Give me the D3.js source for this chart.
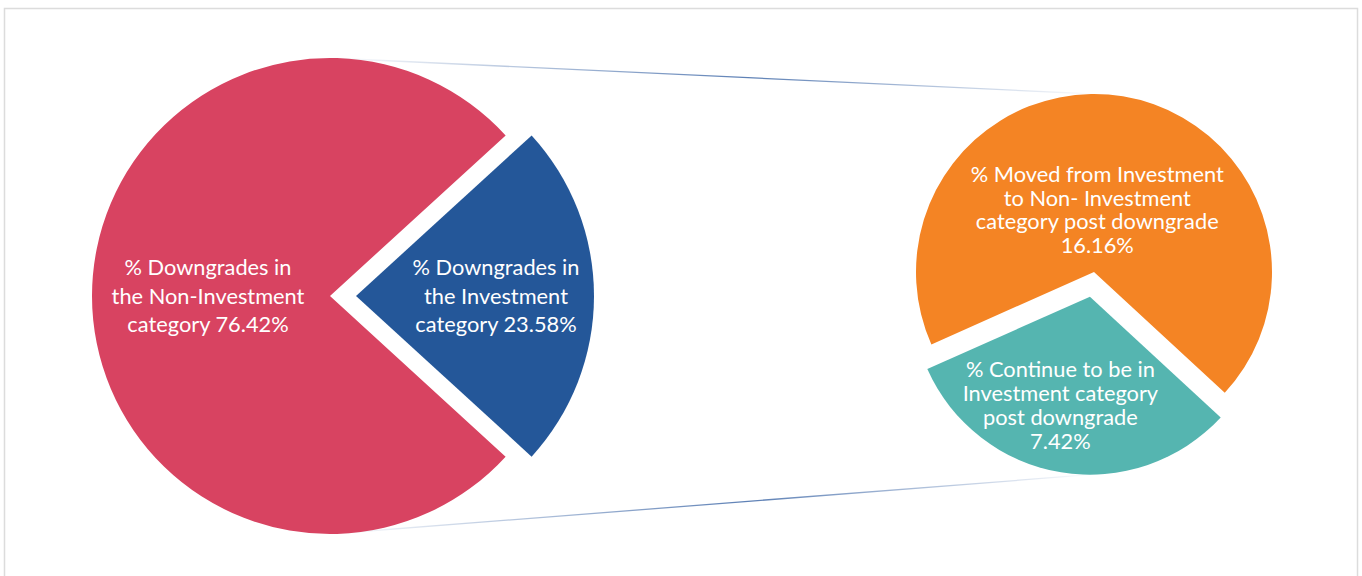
<!DOCTYPE html>
<html>
<head>
<meta charset="utf-8">
<script src="https://cdn.jsdelivr.net/npm/d3@7"></script>
<style>
  body { margin: 0; background: #fff; }
  svg { display: block; font-family: Lato, "Noto Sans", sans-serif; }
</style>
</head>
<body>
<div id="chart"></div>
<script>
// main pie
var mainLabels = [
  ['% Downgrades in', 'the Non-Investment', 'category 76.42%'],
  ['% Downgrades in', 'the Investment', 'category 23.58%']
];
var mainValues = [76.42, 23.58];
var mainColors = ['#D84361', '#245799'];

// breakdown of the investment slice
var subLabels = [
  ['% Moved from Investment', 'to Non- Investment', 'category post downgrade', '16.16%'],
  ['% Continue to be in', 'Investment category', 'post downgrade', '7.42%']
];
var subValues = [16.16, 7.42];
var subColors = ['#F48424', '#55B5B0'];

var width = 1362, height = 576;
var deg = Math.PI / 180;

var svg = d3.select('#chart').append('svg')
  .attr('width', width)
  .attr('height', height);

svg.append('rect')
  .attr('x', 4.5).attr('y', 8.5)
  .attr('width', 1353).attr('height', 600)
  .attr('fill', 'none')
  .attr('stroke', '#dcdcdc')
  .attr('stroke-width', 1.5);

var left = { cx: 330, cy: 296, r: 238, explode: 26 };
var right = { cx: 1094, cy: 272, r: 178, explode: 25 };

// connector lines
var grad = svg.append('defs').append('linearGradient')
  .attr('id', 'conn')
  .attr('gradientUnits', 'userSpaceOnUse')
  .attr('x1', left.cx).attr('x2', right.cx)
  .attr('y1', 0).attr('y2', 0);
grad.append('stop').attr('offset', '0%').attr('stop-color', '#ffffff');
grad.append('stop').attr('offset', '55%').attr('stop-color', '#5d80b5');
grad.append('stop').attr('offset', '100%').attr('stop-color', '#ffffff');

// pies
var mainPie = d3.pie().sort(null).startAngle(132.45 * deg).endAngle(492.45 * deg)(mainValues);
var subPie = d3.pie().sort(null).startAngle(246 * deg).endAngle(606 * deg)(subValues);

var subTealMid = (subPie[1].startAngle + subPie[1].endAngle) / 2;
var tealShift = [Math.sin(subTealMid) * right.explode, -Math.cos(subTealMid) * right.explode];

var connectors = [
  [[left.cx, left.cy - left.r], [right.cx, right.cy - right.r]],
  [[left.cx, left.cy + left.r], [right.cx + tealShift[0], right.cy + tealShift[1] + right.r]]
];

svg.selectAll('.conn')
  .data(connectors)
  .enter().append('path')
  .attr('class', 'conn')
  .attr('d', d3.line())
  .attr('fill', 'none')
  .attr('stroke', 'url(#conn)')
  .attr('stroke-width', 1.3);

function drawPie(slices, cfg, colors, labels, explodeIndex, labelRadii, nudges, fontSize, lineH) {
  var arc = d3.arc().innerRadius(0).outerRadius(cfg.r);
  var g = svg.append('g').attr('transform', 'translate(' + cfg.cx + ',' + cfg.cy + ')');

  var sg = g.selectAll('g.slice')
    .data(slices)
    .enter().append('g')
    .attr('class', 'slice')
    .attr('transform', function(d, i) {
      if (i !== explodeIndex) return null;
      var mid = (d.startAngle + d.endAngle) / 2;
      return 'translate(' + (Math.sin(mid) * cfg.explode) + ',' + (-Math.cos(mid) * cfg.explode) + ')';
    });

  sg.append('path')
    .attr('d', arc)
    .attr('fill', function(d, i) { return colors[i]; });

  sg.append('text')
    .attr('transform', function(d, i) {
      var c = d3.arc().innerRadius(0).outerRadius(labelRadii[i] * 2).centroid(d);
      return 'translate(' + (c[0] + nudges[i][0]) + ',' + (c[1] + nudges[i][1]) + ')';
    })
    .attr('text-anchor', 'middle')
    .attr('fill', '#fff')
    .style('font-size', fontSize + 'px')
    .each(function(d, i) {
      var lines = labels[i];
      var t = d3.select(this);
      lines.forEach(function(line, j) {
        t.append('tspan')
          .attr('x', 0)
          .attr('y', (j - (lines.length - 1) / 2) * lineH)
          .attr('dy', '0.35em')
          .text(line);
      });
    });
}

drawPie(mainPie, left, mainColors, mainLabels, 1, [122, 140], [[0, 0], [0, 0]], 21.8, 28.5);
drawPie(subPie, right, subColors, subLabels, 1, [63, 108], [[-7, 0], [-12, 2]], 21.8, 23.8);
</script>
</body>
</html>
